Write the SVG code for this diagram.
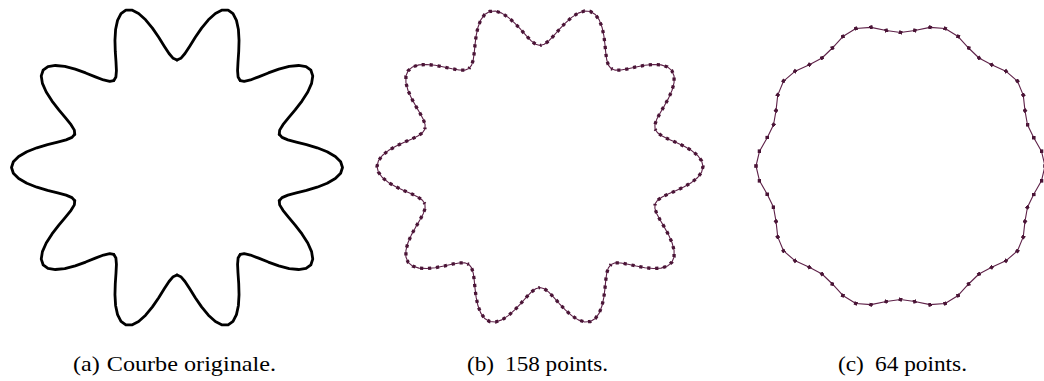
<svg xmlns="http://www.w3.org/2000/svg" xmlns:xlink="http://www.w3.org/1999/xlink" width="1044" height="381" viewBox="0 0 1044 381">
<style>
  .orig { fill: none; stroke: #000; stroke-width: 2.8; stroke-linejoin: round; stroke-linecap: round; }
  .line { fill: none; stroke: #5e2148; stroke-width: 1.1; stroke-linejoin: round; }
  .dots { fill: none; stroke: #4a1436; stroke-width: 3.3; stroke-dasharray: 0.4 0.6; stroke-dashoffset: 0.2; }
  .poly { fill: none; stroke: #5e2148; stroke-width: 1.1; stroke-linejoin: round; marker-start: url(#sq); marker-mid: url(#sq); }
</style>
<defs>
  <marker id="sq" markerUnits="userSpaceOnUse" markerWidth="4" markerHeight="4" refX="1.8" refY="1.8" orient="0">
    <rect width="3.6" height="3.6" fill="#4a1436"/>
  </marker>
  <path id="lobeA" d="M102.24,-33.22 L105.02,-30.11 L110.90,-27.65 L119.33,-25.37 L129.47,-22.83 L140.15,-19.70 L150.17,-15.78 L158.32,-11.07 L163.65,-5.71 L165.5,0 L163.65,5.71 L158.32,11.07 L150.17,15.78 L140.15,19.70 L129.47,22.83 L119.33,25.37 L110.90,27.65 L105.02,30.11 L102.24,33.22"/>
  <path id="lobeB" pathLength="15.8" d="M115.08,-37.39 L117.53,-33.70 L122.17,-30.46 L128.63,-27.34 L136.25,-24.02 L144.23,-20.27 L151.66,-15.94 L157.70,-11.03 L161.63,-5.64 L163,0 L161.63,5.64 L157.70,11.03 L151.66,15.94 L144.23,20.27 L136.25,24.02 L128.63,27.34 L122.17,30.46 L117.53,33.70 L115.08,37.39"/>
  <path id="lobeC" d="M126.97,-41.25 L133.27,-28.33 L140.97,-14.82 L144.5,0 L140.97,14.82 L133.27,28.33 L126.97,41.25"/>
</defs>

<g id="curve-original" transform="translate(177,167.5)">
  <use xlink:href="#lobeA" class="orig"/>
  <use xlink:href="#lobeA" class="orig" transform="rotate(36)"/>
  <use xlink:href="#lobeA" class="orig" transform="rotate(72)"/>
  <use xlink:href="#lobeA" class="orig" transform="rotate(108)"/>
  <use xlink:href="#lobeA" class="orig" transform="rotate(144)"/>
  <use xlink:href="#lobeA" class="orig" transform="rotate(180)"/>
  <use xlink:href="#lobeA" class="orig" transform="rotate(216)"/>
  <use xlink:href="#lobeA" class="orig" transform="rotate(252)"/>
  <use xlink:href="#lobeA" class="orig" transform="rotate(288)"/>
  <use xlink:href="#lobeA" class="orig" transform="rotate(324)"/>
</g>

<g id="curve-158" transform="translate(540,166.5)">
  <use xlink:href="#lobeB" class="line"/>
  <use xlink:href="#lobeB" class="line" transform="rotate(36)"/>
  <use xlink:href="#lobeB" class="line" transform="rotate(72)"/>
  <use xlink:href="#lobeB" class="line" transform="rotate(108)"/>
  <use xlink:href="#lobeB" class="line" transform="rotate(144)"/>
  <use xlink:href="#lobeB" class="line" transform="rotate(180)"/>
  <use xlink:href="#lobeB" class="line" transform="rotate(216)"/>
  <use xlink:href="#lobeB" class="line" transform="rotate(252)"/>
  <use xlink:href="#lobeB" class="line" transform="rotate(288)"/>
  <use xlink:href="#lobeB" class="line" transform="rotate(324)"/>
  <use xlink:href="#lobeB" class="dots"/>
  <use xlink:href="#lobeB" class="dots" transform="rotate(36)"/>
  <use xlink:href="#lobeB" class="dots" transform="rotate(72)"/>
  <use xlink:href="#lobeB" class="dots" transform="rotate(108)"/>
  <use xlink:href="#lobeB" class="dots" transform="rotate(144)"/>
  <use xlink:href="#lobeB" class="dots" transform="rotate(180)"/>
  <use xlink:href="#lobeB" class="dots" transform="rotate(216)"/>
  <use xlink:href="#lobeB" class="dots" transform="rotate(252)"/>
  <use xlink:href="#lobeB" class="dots" transform="rotate(288)"/>
  <use xlink:href="#lobeB" class="dots" transform="rotate(324)"/>
</g>

<g id="curve-64" transform="translate(900.5,166)">
  <use xlink:href="#lobeC" class="poly"/>
  <use xlink:href="#lobeC" class="poly" transform="rotate(36)"/>
  <use xlink:href="#lobeC" class="poly" transform="rotate(72)"/>
  <use xlink:href="#lobeC" class="poly" transform="rotate(108)"/>
  <use xlink:href="#lobeC" class="poly" transform="rotate(144)"/>
  <use xlink:href="#lobeC" class="poly" transform="rotate(180)"/>
  <use xlink:href="#lobeC" class="poly" transform="rotate(216)"/>
  <use xlink:href="#lobeC" class="poly" transform="rotate(252)"/>
  <use xlink:href="#lobeC" class="poly" transform="rotate(288)"/>
  <use xlink:href="#lobeC" class="poly" transform="rotate(324)"/>
</g>

<g id="captions">
  <text font-family="Liberation Serif, Times New Roman, Tinos, DejaVu Serif, serif" font-size="21" x="73" y="371" textLength="203" lengthAdjust="spacingAndGlyphs">(a)<tspan dx="6">Courbe originale.</tspan></text>
  <text font-family="Liberation Serif, Times New Roman, Tinos, DejaVu Serif, serif" font-size="21" x="467" y="371" textLength="141" lengthAdjust="spacingAndGlyphs">(b)<tspan dx="10">158 points.</tspan></text>
  <text font-family="Liberation Serif, Times New Roman, Tinos, DejaVu Serif, serif" font-size="21" x="838" y="371" textLength="129" lengthAdjust="spacingAndGlyphs">(c)<tspan dx="10">64 points.</tspan></text>
</g>
</svg>
